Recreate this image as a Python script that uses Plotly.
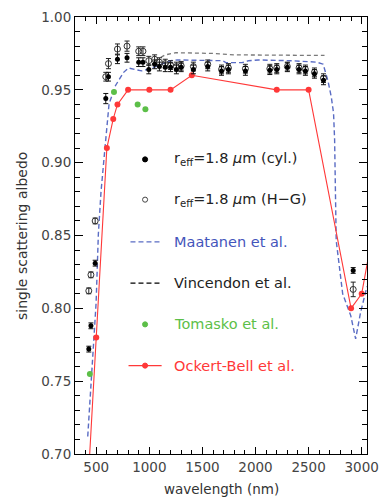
import plotly.graph_objects as go

# ---- data -------------------------------------------------------------
# modelled single scattering albedo (cylinders / Henyey-Greenstein)
wl_model = [430, 450, 490, 590, 615, 700, 790, 900, 940, 995, 1050, 1095, 1150,
            1200, 1255, 1300, 1415, 1550, 1680, 1745, 1905, 2135, 2200, 2300,
            2410, 2470, 2555, 2640, 2920]
alb_cyl = [0.772, 0.788, 0.831, 0.944, 0.959, 0.971, 0.972, 0.969, 0.969, 0.964,
           0.9675, 0.966, 0.9655, 0.9655, 0.964, 0.9655, 0.964, 0.966, 0.963,
           0.964, 0.963, 0.9635, 0.964, 0.9655, 0.964, 0.963, 0.961, 0.9565, 0.826]
err_cyl = [0.002, 0.002, 0.002, 0.0035, 0.003, 0.003, 0.003, 0.003, 0.003, 0.003,
           0.003, 0.003, 0.003, 0.003, 0.003, 0.003, 0.003, 0.003, 0.003, 0.003,
           0.003, 0.003, 0.003, 0.003, 0.003, 0.003, 0.003, 0.003, 0.002]
alb_hg = [0.812, 0.823, 0.860, 0.959, 0.968, 0.978, 0.980, 0.9765, 0.9765, 0.970,
          0.971, 0.969, 0.968, 0.967, 0.966, 0.9665, 0.966, 0.9675, 0.964, 0.965,
          0.9645, 0.9645, 0.965, 0.966, 0.965, 0.964, 0.962, 0.958, 0.813]
err_hg = [0.002, 0.002, 0.002, 0.003, 0.0035, 0.0035, 0.0035, 0.003, 0.003, 0.003,
          0.003, 0.003, 0.003, 0.003, 0.003, 0.003, 0.003, 0.003, 0.003, 0.003,
          0.003, 0.003, 0.003, 0.003, 0.003, 0.003, 0.003, 0.003, 0.005]

# Maatanen et al.
wl_maat = [420, 468, 499, 520, 545, 584, 621, 682, 758, 804, 926, 987, 1079, 1201,
           1262, 1446, 1690, 1721, 1874, 1935, 2026, 2332, 2576, 2637, 2683, 2714,
           2735, 2745, 2760, 2821, 2897, 2943, 2989, 3050]
alb_maat = [0.712, 0.770, 0.804, 0.851, 0.880, 0.9115, 0.9405, 0.953, 0.962, 0.965,
            0.963, 0.964, 0.9665, 0.970, 0.9705, 0.9705, 0.970, 0.9687, 0.9687,
            0.970, 0.9705, 0.970, 0.969, 0.9676, 0.956, 0.945, 0.934, 0.916,
            0.8465, 0.810, 0.795, 0.779, 0.797, 0.815]

# Vincendon et al.
wl_vinc = [1050, 1150, 1250, 1400, 1600, 1800, 2000, 2300, 2500, 2650]
alb_vinc = [0.970, 0.974, 0.9755, 0.9755, 0.975, 0.974, 0.974, 0.974, 0.9738, 0.9736]

# Tomasko et al.
wl_tom = [440, 667, 890, 963]
alb_tom = [0.755, 0.9485, 0.940, 0.9366]

# Ockert-Bell et al.
wl_ob = [400, 500, 600, 660, 700, 800, 1000, 1200, 1400, 2200, 2500, 2900, 3000, 3100]
alb_ob = [0.65, 0.78, 0.91, 0.93, 0.94, 0.95, 0.95, 0.95, 0.96, 0.95, 0.95, 0.80, 0.81, 0.85]

x_ticks = [500, 1000, 1500, 2000, 2500, 3000]
y_ticks = [0.70, 0.75, 0.80, 0.85, 0.90, 0.95, 1.00]

# ---- styles -------------------------------------------------------------
BLUE = "#5a6cc4"
BLUE_TXT = "#4455bb"
GREY = "#7a7a7a"
GREEN = "#5cbf48"
RED = "#ff3838"
FONT = "DejaVu Sans"

W, H = 388, 498
ML, MR, MT, MB = 75, 13, 9, 44

fig = go.Figure()

fig.add_trace(go.Scatter(x=wl_maat, y=alb_maat, mode="lines",
                         line=dict(color=BLUE, width=1.4, dash="5px,3px")))
fig.add_trace(go.Scatter(x=wl_vinc, y=alb_vinc, mode="lines",
                         line=dict(color=GREY, width=1.3, dash="4px,3px")))
fig.add_trace(go.Scatter(x=wl_ob, y=alb_ob, mode="lines+markers",
                         line=dict(color=RED, width=1.1),
                         marker=dict(color=RED, size=6)))
fig.add_trace(go.Scatter(x=wl_tom, y=alb_tom, mode="markers",
                         marker=dict(color=GREEN, size=6)))
fig.add_trace(go.Scatter(x=wl_model, y=alb_hg, mode="markers",
                         marker=dict(symbol="circle-open", color="#333", size=6,
                                     line=dict(width=1)),
                         error_y=dict(type="data", array=err_hg, color="#222",
                                      thickness=1, width=2.5)))
fig.add_trace(go.Scatter(x=wl_model, y=alb_cyl, mode="markers",
                         marker=dict(color="black", size=5),
                         error_y=dict(type="data", array=err_cyl, color="#111",
                                      thickness=1, width=2.5)))

# ---- hand-drawn legend (pixel layout converted to paper coords) ---------
PW, PH = W - ML - MR, H - MT - MB


def px(x):
    return (x - ML) / PW


def py(y):
    return (H - MB - y) / PH


shapes = []
annotations = []
rows = [
    ("dot", "black", "r<sub>eff</sub>=1.8 <i>μ</i>m (cyl.)", "#222", 154),
    ("ring", "#444", "r<sub>eff</sub>=1.8 <i>μ</i>m (H\u2212G)", "#222", 195),
    ("dash", BLUE, "Maatanen et al.", BLUE_TXT, 238),
    ("dash", "black", "Vincendon et al.", "#222", 280),
    ("dot", GREEN, "Tomasko et al.", GREEN, 322),
    ("redline", RED, "Ockert-Bell et al.", RED, 364),
]
for kind, col, label, tcol, yy in rows:
    if kind in ("dot", "ring", "redline"):
        if kind == "redline":
            shapes.append(dict(type="line", xref="paper", yref="paper",
                               x0=px(130), x1=px(164), y0=py(yy), y1=py(yy),
                               line=dict(color=col, width=1.1)))
        r = 2.6
        shapes.append(dict(type="circle", xref="paper", yref="paper",
                           x0=px(147 - r), x1=px(147 + r),
                           y0=py(yy + r), y1=py(yy - r),
                           fillcolor=col if kind != "ring" else "rgba(0,0,0,0)",
                           line=dict(color=col, width=1)))
    else:
        shapes.append(dict(type="line", xref="paper", yref="paper",
                           x0=px(132), x1=px(162), y0=py(yy), y1=py(yy),
                           line=dict(color=col, width=1.3, dash="5px,3px")))
    annotations.append(dict(x=px(175), y=py(yy), xref="paper", yref="paper",
                            text=label, showarrow=False, xanchor="left",
                            yanchor="middle",
                            font=dict(family=FONT, size=14.5, color=tcol)))

# axis titles
annotations.append(dict(x=px(20), y=0.5, xref="paper", yref="paper",
                        text="single scattering albedo", textangle=-90,
                        showarrow=False, xanchor="center", yanchor="middle",
                        font=dict(family=FONT, size=14, color="#333")))
annotations.append(dict(x=0.5, y=py(490), xref="paper", yref="paper",
                        text="wavelength (nm)", showarrow=False,
                        xanchor="center", yanchor="middle",
                        font=dict(family=FONT, size=13.5, color="#333")))

axis_common = dict(showline=True, linecolor="black", linewidth=1, mirror="allticks",
                   ticks="inside", tickcolor="black", showgrid=False,
                   zeroline=False, tickfont=dict(family=FONT, size=13.5, color="#444"))

fig.update_layout(
    width=W, height=H,
    margin=dict(l=ML, r=MR, t=MT, b=MB),
    paper_bgcolor="white", plot_bgcolor="white",
    showlegend=False,
    shapes=shapes, annotations=annotations,
    xaxis=dict(range=[300, 3050], tickvals=x_ticks,
               ticktext=[str(v) for v in x_ticks], ticklen=7,
               minor=dict(dtick=100, tick0=0, ticks="inside", ticklen=4,
                          tickcolor="black", showgrid=False),
               ticklabelstandoff=1, **axis_common),
    yaxis=dict(range=[0.70, 1.00], tickvals=y_ticks,
               ticktext=[f"{v:.2f}" for v in y_ticks], ticklen=8,
               minor=dict(dtick=0.01, tick0=0, ticks="inside", ticklen=5,
                          tickcolor="black", showgrid=False),
               **axis_common),
)

fig.write_html("out.html")
